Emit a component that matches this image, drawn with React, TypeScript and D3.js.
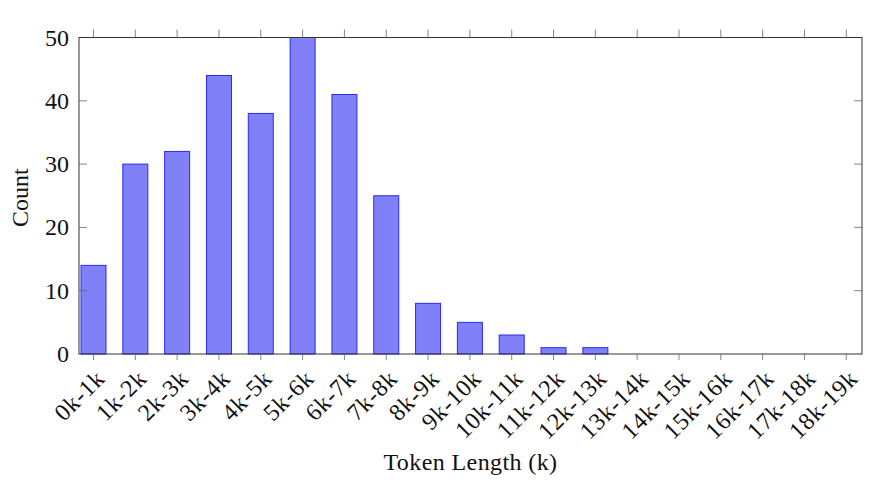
import React from "react";
import * as d3 from "d3";

const categories = ["0k-1k","1k-2k","2k-3k","3k-4k","4k-5k","5k-6k","6k-7k","7k-8k","8k-9k","9k-10k","10k-11k","11k-12k","12k-13k","13k-14k","14k-15k","15k-16k","16k-17k","17k-18k","18k-19k"];
const counts = [14,30,32,44,38,50,41,25,8,5,3,1,1,0,0,0,0,0,0];
const yTicks = [0,10,20,30,40,50];

const W = 880, H = 490;
const L = 79, R = 862, T = 37.5, B = 354;
const FONT = "'Liberation Serif', 'Times New Roman', serif";

export default function App() {
  const x = d3.scalePoint<string>().domain(categories).range([93.5, 846.3]);
  const y = d3.scaleLinear().domain([0, 50]).range([B, T]);
  const bw = 25;
  return (
    <svg width={W} height={H} style={{ position: "absolute", left: 0, top: 0, background: "#fff" }} fontFamily={FONT}>
      <rect x={0} y={0} width={W} height={H} fill="#fff" />
      {categories.map((c, i) => (
        <rect key={c} x={x(c)! - bw / 2} y={y(counts[i])} width={bw} height={Math.max(0, B - y(counts[i]))}
          fill="#8080f9" stroke="#2a2af0" strokeWidth={1} />
      ))}
      {/* axis box */}
      <rect x={L} y={T} width={R - L} height={B - T} fill="none" stroke="#333" strokeWidth={1} />
      {/* x ticks (outward, bottom and top) */}
      {categories.map((c) => (
        <g key={"t" + c}>
          <line x1={x(c)} x2={x(c)} y1={B} y2={B + 6} stroke="#666" strokeWidth={0.8} />
          <line x1={x(c)} x2={x(c)} y1={T} y2={T - 8} stroke="#666" strokeWidth={0.8} />
          <text transform={`translate(${x(c)! + 1},${B + 14}) rotate(-45)`} textAnchor="end" fontSize={24} letterSpacing={0.8} dominantBaseline="hanging" fill="#111">{c}</text>
        </g>
      ))}
      {/* y ticks (inward, left and right) */}
      {yTicks.map((v) => (
        <g key={"y" + v}>
          {v > 0 && v < 50 && <line x1={L} x2={L + 8} y1={y(v)} y2={y(v)} stroke="#666" strokeWidth={0.8} />}
          {v > 0 && v < 50 && <line x1={R} x2={R - 8} y1={y(v)} y2={y(v)} stroke="#666" strokeWidth={0.8} />}
          <text x={L - 10} y={y(v)} textAnchor="end" dominantBaseline="central" fontSize={24} fill="#111">{v}</text>
        </g>
      ))}
      <text transform={`translate(28,${(T + B) / 2 + 2}) rotate(-90)`} textAnchor="middle" fontSize={24} fill="#111">Count</text>
      <text x={(L + R) / 2} y={470} textAnchor="middle" fontSize={24} letterSpacing={0.4} fill="#111">Token Length (k)</text>
    </svg>
  );
}
